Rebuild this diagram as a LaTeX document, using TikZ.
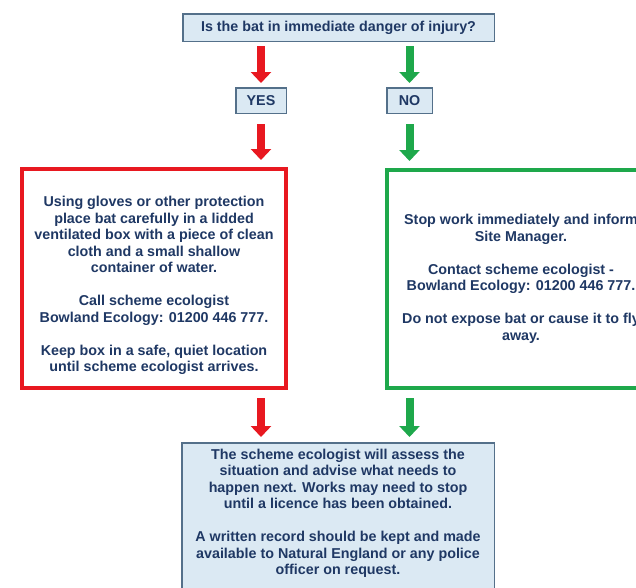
\documentclass[tikz,border=0pt]{standalone}
\usepackage{fontspec}
\setmainfont{Liberation Sans}
\usetikzlibrary{arrows.meta}

\definecolor{boxfill}{RGB}{219, 233, 243}
\definecolor{boxedge}{RGB}{84, 112, 138}
\definecolor{txtcol}{RGB}{31, 56, 100}
\definecolor{yescol}{RGB}{232, 24, 32}
\definecolor{nocol}{RGB}{30, 168, 75}

\tikzset{
  qbox/.style={draw=boxedge, fill=boxfill, line width=1.5pt, inner sep=3pt, align=center},
  actbox/.style={line width=4pt, fill=white, align=center},
  bigarr/.style={line width=8pt, -{Triangle[width=20pt, length=11pt]}},
}

\begin{document}
\begin{tikzpicture}[x=1pt, y=-1pt, text=txtcol,
    font=\fontsize{14.3}{16.5}\selectfont\bfseries]
        \path[use as bounding box, clip] (0,0) rectangle (636,587);

        % Question and answers
        \node[qbox, minimum width=311.5pt, minimum height=27.5pt] (q) at (338.5,27.5) {Is the bat in immediate danger of injury?};
        \node[qbox, minimum width=50.5pt, minimum height=25.5pt] (yes) at (261,100.5) {YES};
        \node[qbox, minimum width=45.5pt, minimum height=25.5pt] (no) at (409.5,100.5) {NO};

        % Action boxes
        \node[actbox, draw=yescol, minimum width=264pt, minimum height=219pt] (act) at (154,278.5) {\rule{0pt}{24.4pt}Using gloves or other protection\\place bat carefully in a lidded\\ventilated box with a piece of clean\\cloth and a small shallow\\container of water.\\[16.5pt]Call scheme ecologist\\Bowland Ecology: 01200 446 777.\\[16.5pt]Keep box in a safe, quiet location\\until scheme ecologist arrives.};
        \node[actbox, draw=nocol, minimum width=268pt, minimum height=218pt] (stop) at (521,279) {Stop work immediately and inform\\Site Manager.\\[16.5pt]Contact scheme ecologist -\\Bowland Ecology: 01200 446 777.\\[16.5pt]Do not expose bat or cause it to fly\\away.};

        % Outcome
        \node[qbox, anchor=north, minimum width=312.5pt, inner ysep=6pt, text depth=40pt] (adv) at (338,442) {The scheme ecologist will assess the\\situation and advise what needs to\\happen next. Works may need to stop\\until a licence has been obtained.\\[16.5pt]A written record should be kept and made\\available to Natural England or any police\\officer on request.};

        % Arrows
        \draw[bigarr, yescol, shorten <=4pt, shorten >=4pt] (q.south -| yes.north) -- (yes.north);
        \draw[bigarr, nocol, shorten <=4pt, shorten >=4pt] (q.south -| no.north) -- (no.north);
        \draw[bigarr, yescol, shorten <=10pt, shorten >=7pt] (yes.south) -- (yes.south |- act.north);
        \draw[bigarr, nocol, shorten <=10pt, shorten >=7pt] (no.south) -- (no.south |- stop.north);
        \draw[bigarr, yescol, shorten <=8pt, shorten >=5pt] (act.south -| yes.south) -- (adv.north -| yes.south);
        \draw[bigarr, nocol, shorten <=8pt, shorten >=5pt] (stop.south -| no.south) -- (adv.north -| no.south);
      \end{tikzpicture}
\end{document}
